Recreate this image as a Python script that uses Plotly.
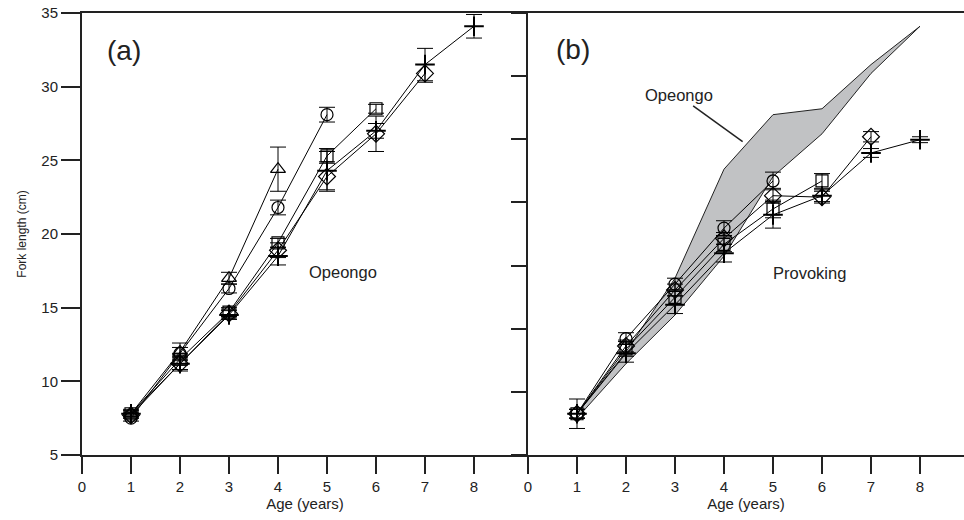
import plotly.graph_objects as go

# ---------------- data ----------------
ages = [1, 2, 3, 4, 5, 6, 7, 8]

# Panel (a) Opeongo
a_tri = [7.8, 12.0, 17.0, 24.4]
a_tri_err = [0.3, 0.6, 0.4, 1.5]
a_cir = [7.5, 11.9, 16.3, 21.8, 28.1]
a_cir_err = [0.2, 0.4, 0.3, 0.5, 0.5]
a_sq = [7.8, 11.5, 14.7, 19.4, 25.3, 28.5]
a_sq_err = [0.2, 0.4, 0.3, 0.3, 0.5, 0.3]
a_dia = [7.7, 11.2, 14.6, 18.9, 23.9, 26.8, 30.9]
a_dia_err = [0.2, 0.4, 0.3, 0.5, 1.0, 1.2, 0.6]
a_plus = [7.8, 11.2, 14.5, 18.5, 24.3, 27.0, 31.5, 34.1]
a_plus_err = [0.2, 0.5, 0.3, 0.6, 1.3, 0.5, 1.1, 0.8]

# Panel (b) Provoking
b_cir = [7.8, 12.9, 16.6, 20.4, 23.6]
b_cir_err = [0.3, 0.4, 0.4, 0.5, 0.6]
b_dia = [7.8, 12.4, 16.2, 19.7, 22.6, 22.5, 26.6]
b_dia_err = [0.3, 0.4, 0.4, 0.4, 0.5, 0.4, 0.35]
b_sq = [7.8, 12.2, 15.7, 19.3, 21.7, 23.6]
b_sq_err = [0.3, 0.5, 0.5, 0.5, 0.6, 0.5]
b_plus = [7.8, 11.9, 15.2, 18.7, 21.3, 22.6, 25.5, 26.4]
b_plus_err = [1.0, 0.6, 0.6, 0.6, 0.9, 0.4, 0.3, 0.2]

x_ticks_a = [0, 1, 2, 3, 4, 5, 6, 7, 8]
x_ticks_b = [0, 1, 2, 3, 4, 5, 6, 7, 8, 9]
y_ticks_a = [5, 10, 15, 20, 25, 30, 35]
y_ticks_b = [5 + k * 30 / 7 for k in range(8)]

FONT = "Liberation Sans, Arial, sans-serif"

fig = go.Figure()

# Opeongo envelope in panel (b)
a_series = [a_tri, a_cir, a_sq, a_dia, a_plus]
band_top, band_bot = [], []
for i, _ in enumerate(ages):
    vals = [s[i] for s in a_series if len(s) > i]
    band_top.append(max(vals))
    band_bot.append(min(vals))
fig.add_trace(go.Scatter(
    x=ages + ages[::-1], y=band_top + band_bot[::-1],
    fill="toself", fillcolor="#c1c2c4", mode="lines",
    line=dict(color="#222", width=1), xaxis="x2", yaxis="y2",
    showlegend=False, hoverinfo="skip"))


def add_series(x_ax, y_ax, vals, errs, symbol, size, lw=1.2):
    fig.add_trace(go.Scatter(
        x=ages[:len(vals)], y=vals, mode="lines+markers",
        xaxis=x_ax, yaxis=y_ax, showlegend=False,
        line=dict(color="black", width=1),
        marker=dict(symbol=symbol, size=size, color="black",
                    line=dict(color="black", width=lw)),
        error_y=dict(type="data", array=errs, color="black",
                     thickness=1, width=8)))


add_series("x", "y", a_tri, a_tri_err, "triangle-up-open", 13)
add_series("x", "y", a_cir, a_cir_err, "circle-open", 12)
add_series("x", "y", a_sq, a_sq_err, "square-open", 12)
add_series("x", "y", a_dia, a_dia_err, "diamond-open", 13)
add_series("x", "y", a_plus, a_plus_err, "cross-thin-open", 14, 2)

add_series("x2", "y2", b_cir, b_cir_err, "circle-open", 12)
add_series("x2", "y2", b_dia, b_dia_err, "diamond-open", 13)
add_series("x2", "y2", b_sq, b_sq_err, "square-open", 12)
add_series("x2", "y2", b_plus, b_plus_err, "cross-thin-open", 14, 2)

split = (528 - 82) / 882

axis_common = dict(showline=True, linecolor="#222", linewidth=2,
                   ticks="outside", tickcolor="#222", tickwidth=2,
                   showgrid=False, zeroline=False,
                   tickfont=dict(family=FONT, size=15, color="#222"))

fig.update_layout(
    width=964, height=520,
    margin=dict(l=82, r=0, t=13, b=65),
    paper_bgcolor="white", plot_bgcolor="white",
    xaxis=dict(domain=[0, split], range=[0, 446 / 49], tickvals=x_ticks_a,
               ticklen=17, mirror=True,
               title=dict(text="Age (years)", font=dict(family=FONT, size=15, color="#222"), standoff=2),
               anchor="y", **axis_common),
    yaxis=dict(domain=[0, 1], range=[5, 35], tickvals=y_ticks_a, ticklen=19,
               title=dict(text="Fork length (cm)", font=dict(family=FONT, size=12, color="#222"), standoff=12),
               anchor="x", **axis_common),
    xaxis2=dict(domain=[split, 1], range=[0, 436 / 49], tickvals=x_ticks_b,
                ticklen=17, mirror=True,
                title=dict(text="Age (years)", font=dict(family=FONT, size=15, color="#222"), standoff=2),
                anchor="y2", **axis_common),
    yaxis2=dict(domain=[0, 1], range=[5, 35], tickvals=y_ticks_b, ticklen=15,
                showticklabels=False, anchor="x2", **axis_common),
)

ann_font = dict(family=FONT, size=16.5, color="#222")
fig.add_annotation(x=0.86, y=32.43, xref="x", yref="y", text="(a)", showarrow=False,
                   font=dict(family=FONT, size=28, color="#222"))
fig.add_annotation(x=0.91, y=32.5, xref="x2", yref="y2", text="(b)", showarrow=False,
                   font=dict(family=FONT, size=28, color="#222"))
fig.add_annotation(x=5.32, y=17.42, xref="x", yref="y", text="Opeongo", showarrow=False, font=ann_font)
fig.add_annotation(x=5.74, y=17.35, xref="x2", yref="y2", text="Provoking", showarrow=False, font=ann_font)
fig.add_annotation(x=3.08, y=29.44, xref="x2", yref="y2", text="Opeongo", showarrow=False, font=ann_font)
fig.add_shape(type="line", xref="x2", yref="y2", x0=3.37, y0=28.69, x1=4.38, y1=26.27,
              line=dict(color="#222", width=1.5))

fig.write_html("out.html")
